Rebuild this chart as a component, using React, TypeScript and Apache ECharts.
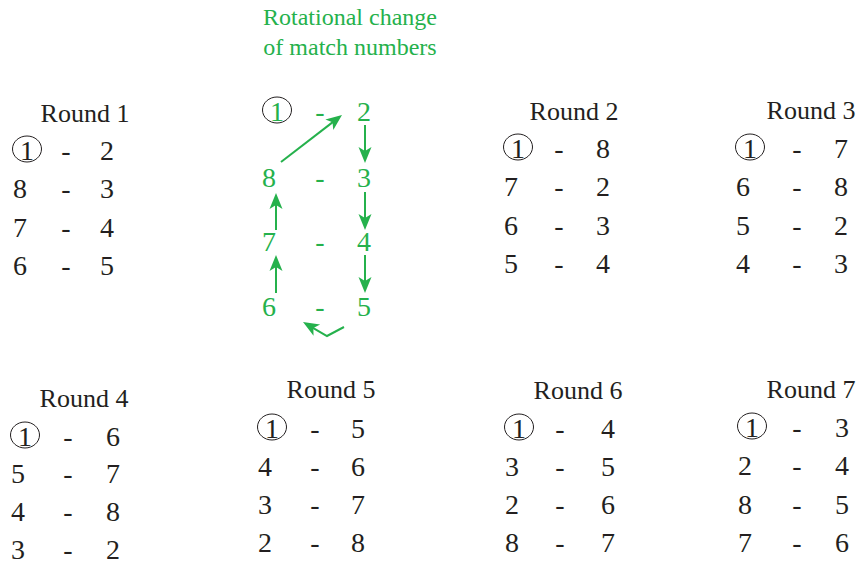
import React, { useEffect, useRef } from "react";
import * as echarts from "echarts";

// ---------- data ----------
const ROUND_TITLES = ["Round 1", "Round 2", "Round 3", "Round 4", "Round 5", "Round 6", "Round 7"];
const LEFT_NUMBERS = [
  [1, 8, 7, 6],
  [1, 7, 6, 5],
  [1, 6, 5, 4],
  [1, 5, 4, 3],
  [1, 4, 3, 2],
  [1, 3, 2, 8],
  [1, 2, 8, 7],
];
const RIGHT_NUMBERS = [
  [2, 3, 4, 5],
  [8, 2, 3, 4],
  [7, 8, 2, 3],
  [6, 7, 8, 2],
  [5, 6, 7, 8],
  [4, 5, 6, 7],
  [3, 4, 5, 6],
];
const FIXED_TEAM = 1;
const ROTATION_TITLE = ["Rotational change", "of match numbers"];
const ROTATION_LEFT = [1, 8, 7, 6];
const ROTATION_RIGHT = [2, 3, 4, 5];

// ---------- layout ----------
const BLOCK_LAYOUT = [
  { tx: 85, ty: 113, left: 20, dash: 66, right: 107, y0: 150, dy: 38.6 },
  { tx: 574, ty: 111, left: 511, dash: 559, right: 603, y0: 148, dy: 38.5 },
  { tx: 811, ty: 110, left: 743, dash: 797, right: 841, y0: 148, dy: 38.5 },
  { tx: 84, ty: 398, left: 18, dash: 68, right: 113, y0: 436, dy: 37.8 },
  { tx: 331, ty: 389, left: 265, dash: 315, right: 358, y0: 428, dy: 38.3 },
  { tx: 578, ty: 390, left: 512, dash: 560, right: 608, y0: 428, dy: 38.3 },
  { tx: 811, ty: 389, left: 745, dash: 797, right: 842, y0: 427, dy: 38.5 },
];
const ROT_LAYOUT = { left: 269, circleX: 277, dash: 320, right: 364, ys: [111, 177, 241, 306] };
const ROT_TITLE_POS = { x: 350, ys: [17, 47] };

const BLACK = "#231f20";
const GREEN = "#25b14c";
const FONT = "Liberation Serif, Times New Roman, serif";

function txt(text: string, x: number, y: number, size: number, color: string) {
  return {
    type: "text",
    x,
    y,
    silent: true,
    style: {
      text,
      fill: color,
      fontSize: size,
      fontFamily: FONT,
      textAlign: "center",
      textVerticalAlign: "middle",
    },
  };
}

function ring(cx: number, cy: number) {
  return {
    type: "ellipse",
    silent: true,
    shape: { cx, cy, rx: 14.5, ry: 13 },
    style: { fill: "none", stroke: BLACK, lineWidth: 1 },
  };
}

function head(px: number, py: number, tx: number, ty: number) {
  const len = 16;
  const hw = 6.5;
  const notch = 4;
  const dx = tx - px;
  const dy = ty - py;
  const d = Math.sqrt(dx * dx + dy * dy);
  const ux = dx / d;
  const uy = dy / d;
  const nx = -uy;
  const ny = ux;
  const bx = tx - ux * len;
  const by = ty - uy * len;
  const mx = tx - ux * (len - notch);
  const my = ty - uy * (len - notch);
  return {
    type: "polygon",
    silent: true,
    shape: {
      points: [
        [tx, ty],
        [bx + nx * hw, by + ny * hw],
        [mx, my],
        [bx - nx * hw, by - ny * hw],
      ],
    },
    style: { fill: GREEN },
  };
}

function arrowPath(pts: number[][]) {
  const n = pts.length;
  const [px, py] = pts[n - 2];
  const [tx, ty] = pts[n - 1];
  const dx = tx - px;
  const dy = ty - py;
  const d = Math.sqrt(dx * dx + dy * dy);
  const shortened = pts.slice(0, n - 1).concat([[tx - (dx / d) * 10, ty - (dy / d) * 10]]);
  return [
    {
      type: "polyline",
      silent: true,
      shape: { points: shortened },
      style: { stroke: GREEN, lineWidth: 2, fill: "none" },
    },
    head(px, py, tx, ty),
  ];
}

const ARROWS = [
  [[281, 162], [342, 115]],
  [[365, 125], [365, 163]],
  [[365, 192], [365, 230]],
  [[365, 255], [365, 293]],
  [[276, 230], [276, 193]],
  [[276, 293], [276, 255]],
  [[344, 327], [327, 336], [303, 322]],
];

function buildElements() {
  const els: any[] = [];
  ROUND_TITLES.forEach((title, i) => {
    const L = BLOCK_LAYOUT[i];
    els.push(txt(title, L.tx, L.ty, 26, BLACK));
    LEFT_NUMBERS[i].forEach((num, r) => {
      const y = L.y0 + r * L.dy;
      if (num === FIXED_TEAM) {
        els.push(ring(L.left + 7, y - 1));
        els.push(txt(String(num), L.left + 7, y, 28, BLACK));
      } else {
        els.push(txt(String(num), L.left, y, 28, BLACK));
      }
      els.push(txt("-", L.dash, y, 28, BLACK));
      els.push(txt(String(RIGHT_NUMBERS[i][r]), L.right, y, 28, BLACK));
    });
  });
  ROTATION_TITLE.forEach((line, i) => {
    els.push(txt(line, ROT_TITLE_POS.x, ROT_TITLE_POS.ys[i], 24, GREEN));
  });
  ROTATION_LEFT.forEach((num, r) => {
    const y = ROT_LAYOUT.ys[r];
    if (num === FIXED_TEAM) {
      els.push(ring(ROT_LAYOUT.circleX, y - 1));
      els.push(txt(String(num), ROT_LAYOUT.circleX, y, 28, GREEN));
    } else {
      els.push(txt(String(num), ROT_LAYOUT.left, y, 28, GREEN));
    }
    els.push(txt("-", ROT_LAYOUT.dash, y, 28, GREEN));
    els.push(txt(String(ROTATION_RIGHT[r]), ROT_LAYOUT.right, y, 28, GREEN));
  });
  ARROWS.forEach((a) => {
    arrowPath(a).forEach((e) => els.push(e));
  });
  return els;
}

export default function App() {
  const ref = useRef<HTMLDivElement>(null);
  useEffect(() => {
    if (!ref.current) return;
    const chart = echarts.init(ref.current, undefined, { renderer: "svg" });
    chart.setOption({
      animation: false,
      backgroundColor: "#ffffff",
      graphic: { elements: buildElements() },
    });
    return () => chart.dispose();
  }, []);
  return (
    <div
      ref={ref}
      style={{ position: "fixed", left: 0, top: 0, width: 858, height: 564, background: "#fff" }}
    />
  );
}
